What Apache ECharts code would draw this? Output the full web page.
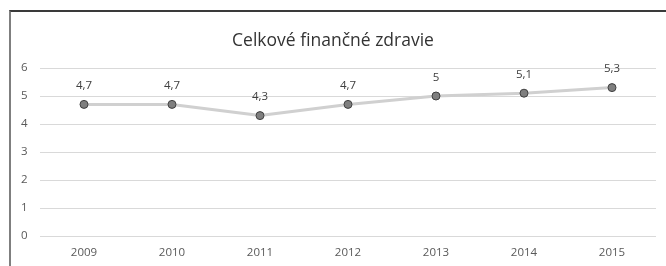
<!DOCTYPE html>
<html>
<head>
<meta charset="utf-8">
<script src="https://cdn.jsdelivr.net/npm/echarts@6/dist/echarts.min.js"></script>
<style>
  html, body { margin: 0; padding: 0; background: #fff; }
  #wrap { position: relative; width: 666px; height: 266px; }
  #chart { width: 666px; height: 266px; }
  #frame {
    position: absolute; left: 9px; top: 10px; right: 0; bottom: 0;
    border-left: 2px solid #7f7f7f; border-top: 2px solid #3a3a3a;
    pointer-events: none;
  }
</style>
</head>
<body>
<div id="wrap">
  <div id="chart"></div>
  <div id="frame"></div>
</div>
<script>
const years = ['2009', '2010', '2011', '2012', '2013', '2014', '2015']
const scores = [4.7, 4.7, 4.3, 4.7, 5.0, 5.1, 5.3]
const titleText = 'Celkové finančné zdravie'

const chart = echarts.init(document.getElementById('chart'))

const font = '"Open Sans"'

chart.setOption({
  animation: false,
  title: {
    text: titleText,
    left: 'center',
    top: 27,
    textStyle: { fontFamily: font, fontWeight: 'normal', fontSize: 17.5, color: '#333333' }
  },
  grid: { left: 40, right: 10, top: 68, bottom: 30 },
  xAxis: {
    type: 'category',
    data: years,
    axisLine: { show: false },
    axisTick: { show: false },
    axisLabel: { color: '#595959', fontFamily: font, fontSize: 11.5, margin: 11 }
  },
  yAxis: {
    type: 'value',
    min: 0,
    max: 6,
    interval: 1,
    axisLine: { show: false },
    axisTick: { show: false },
    axisLabel: { color: '#595959', fontFamily: font, fontSize: 11.5, margin: 19, align: 'left' },
    splitLine: { lineStyle: { color: '#d9d9d9', width: 1 } }
  },
  series: [
    {
      type: 'line',
      data: scores,
      symbol: 'circle',
      symbolSize: 8,
      lineStyle: { color: '#d0d0d0', width: 3 },
      itemStyle: { color: '#7f7f7f', borderColor: '#404040', borderWidth: 1 },
      label: {
        show: true,
        position: 'top',
        distance: 8,
        color: '#404040',
        fontFamily: font,
        fontSize: 11.5,
        formatter: p => String(p.value).replace('.', ',')
      }
    }
  ]
})
</script>
</body>
</html>
